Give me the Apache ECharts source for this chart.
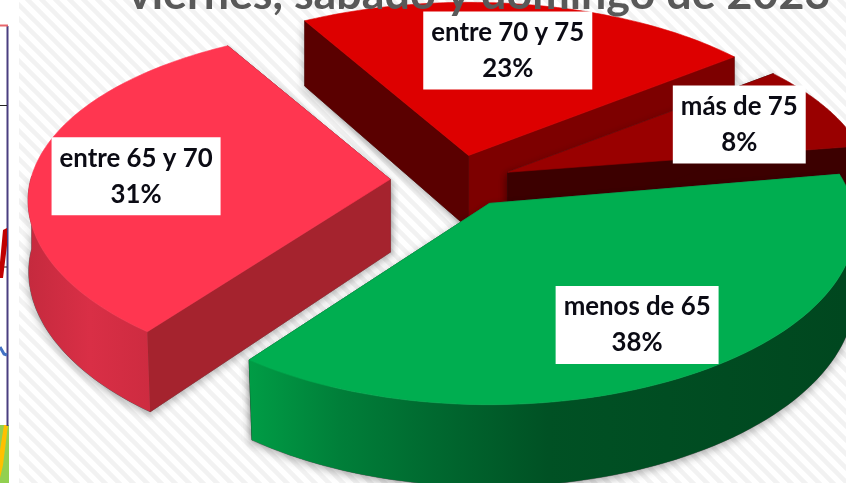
<!DOCTYPE html>
<html>
<head>
<meta charset="utf-8">
<style>html,body{margin:0;padding:0;background:#fff;overflow:hidden}#c{width:846px;height:483px}</style>
<script src="https://cdn.jsdelivr.net/npm/echarts@6/dist/echarts.min.js"></script>
</head>
<body>
<div id="c"></div>
<script>
// Data, in pie order (going round from the right-hand edge)
const categories = ['más de 75', 'entre 70 y 75', 'entre 65 y 70', 'menos de 65'];
const values = [8, 23, 31, 38];
const titleText = 'viernes, sábado y domingo de 2023';

// Styles of each slice
const topColors = ['#990000', '#dd0000', '#ff3650', '#00ae50'];
const edgeColors = ['#3c0000', '#7d0000', '#a5232e', '#00702f'];
const backEdgeColors = ['#3c0000', '#5a0000', '#a5232e', '#00702f'];
const drawRank = [1, 0, 2, 3];
const explodeScale = [0.85, 1, 1, 1];
const radiusScale = [1, 1, 0.99, 1];
const angleNudge = [0, 0, 0, -1];
const labelRadius = [0.72, 0.68, 0.7, 0.735];
const labelNudge = [[0, 0], [-4, 2], [-2, 5], [2, 0]];

// Pie projection
const pie = { cx: 456, cy: 181, rx: 363, ry: 175, px: 0.125, pyNear: 0.15, pyFar: 0.125, ex: 66, ey: 26, start: -8.8, depth: 73, depthP: 9 };
const rad = d => d * Math.PI / 180;
function project(center, deg, r) {
  const u = r * Math.cos(rad(deg)), v = r * Math.sin(rad(deg));
  const py = v > 0 ? pie.pyNear : pie.pyFar;
  return [center[0] + pie.rx * u * (1 + pie.px * v), center[1] + pie.ry * v * (1 + py * v), v];
}
function drop(center, p) {
  const d = pie.depth + pie.depthP * p[2];
  const taper = 1 - 0.015 * Math.max(p[2], 0);
  return [center[0] + (p[0] - center[0]) * taper, p[1] + d];
}
function arcGradient(i) {
  if (i === 3) return { type: 'linear', global: true, x: 250, y: 0, x2: 846, y2: 0, colorStops: [
    { offset: 0, color: '#009c45' }, { offset: 0.15, color: '#007f39' }, { offset: 0.3, color: '#006a30' },
    { offset: 0.5, color: '#005124' }, { offset: 1, color: '#00471f' }] };
  if (i === 2) return { type: 'linear', global: true, x: 28, y: 0, x2: 152, y2: 0, colorStops: [
    { offset: 0, color: '#c52a3e' }, { offset: 0.5, color: '#d92f46' }, { offset: 1, color: '#cd2b40' }] };
  return edgeColors[i];
}
const total = values.reduce((a, b) => a + b, 0);
const shadow = { shadowBlur: 9, shadowColor: 'rgba(0,0,0,0.3)', shadowOffsetY: 3 };

function renderSlice(params, api) {
  const i = params.dataIndex;
  let a0 = pie.start;
  for (let k = 0; k < i; k++) a0 -= values[k] / total * 360;
  const a1 = a0 - api.value(1) / total * 360;
  const mid = (a0 + a1) / 2;
  const k = explodeScale[i];
  const c = [pie.cx + pie.ex * k * Math.cos(rad(mid)), pie.cy + pie.ey * k * Math.sin(rad(mid))];
  const arc = [];
  const n = 80;
  for (let s = 0; s <= n; s++) arc.push(project(c, a0 + angleNudge[i] + (a1 - a0) * s / n, radiusScale[i]));
  const top = [c].concat(arc.map(p => [p[0], p[1]]));
  const cBottom = [c[0], c[1] + pie.depth];
  const arcBottom = arc.map(p => drop(c, p));
  // only the part of the outer wall that faces the viewer
  const front = arc.filter(p => p[2] >= -0.03);
  const wall = front.map(p => [p[0], p[1]]).concat(front.map(p => drop(c, p)).reverse());
  const first = arc[0], last = arc[n];
  const side0 = [c, [first[0], first[1]], arcBottom[0], cBottom];
  const side1 = [c, [last[0], last[1]], arcBottom[n], cBottom];
  const lp = project(c, mid, labelRadius[i]);
  const z = drawRank[i] * 10;
  const poly = (pts, fill, zz, extra) => ({ type: 'polygon', z2: z + zz, shape: { points: pts },
    style: Object.assign({ fill: fill, stroke: typeof fill === 'string' ? fill : 'none', lineWidth: 0.6 }, extra || {}) });
  const children = [
    poly(side0, '#555', 0, shadow), poly(side1, '#555', 0, shadow),
    poly(side0, edgeColors[i], 1),
    poly(side1, backEdgeColors[i], 1),
    poly(top, topColors[i], 3),
    { type: 'text', z2: 100, style: {
      x: lp[0] + labelNudge[i][0], y: lp[1] + labelNudge[i][1], align: 'center', verticalAlign: 'middle',
      text: categories[i] + '\n' + api.value(1) + '%',
      font: 'bold 25.8px Lato, "Noto Sans", sans-serif', lineHeight: 36, fill: '#0b0b14',
      backgroundColor: '#fff', padding: [3, 8, 3, 8] } }
  ];
  if (front.length > 1) {
    children.push(poly(wall, '#555', 0, shadow));
    children.push(poly(wall, arcGradient(i), 2));
  }
  return { type: 'group', children: children };
}

// Diagonal hatch of the slide background
const tile = document.createElement('canvas');
tile.width = tile.height = 14;
const g = tile.getContext('2d');
g.fillStyle = '#fff'; g.fillRect(0, 0, 14, 14);
g.strokeStyle = '#f2f2f2'; g.lineWidth = 4.5;
g.beginPath();
g.moveTo(-7, 7); g.lineTo(7, 21);
g.moveTo(0, 0); g.lineTo(14, 14);
g.moveTo(7, -7); g.lineTo(21, 7);
g.stroke();

const chart = echarts.init(document.getElementById('c'), null, { renderer: 'canvas' });
chart.setOption({
  animation: false,
  backgroundColor: '#fff',
  graphic: [
    { type: 'rect', z: -10, shape: { x: 19, y: 0, width: 827, height: 483 }, style: { fill: { image: tile, repeat: 'repeat' } }, silent: true },
    { type: 'rect', z: -9, shape: { x: 0, y: 425, width: 9, height: 58 }, style: { fill: '#92d050' } },
    { type: 'polygon', z: -9, shape: { points: [[4, 425], [8, 425], [3, 465], [0, 478], [0, 450]] }, style: { fill: '#ffc000' } },
    { type: 'line', z: -9, shape: { x1: 7.5, y1: 26, x2: 7.5, y2: 426 }, style: { stroke: '#4a3f80', lineWidth: 2 } },
    { type: 'line', z: -9, shape: { x1: 0, y1: 25.5, x2: 8, y2: 25.5 }, style: { stroke: '#e8666c', lineWidth: 2 } },
    { type: 'line', z: -9, shape: { x1: 0, y1: 105.5, x2: 7, y2: 105.5 }, style: { stroke: '#222', lineWidth: 1 } },
    { type: 'line', z: -9, shape: { x1: 3, y1: 267, x2: 7, y2: 267 }, style: { stroke: '#222', lineWidth: 1 } },
    { type: 'polygon', z: -9, shape: { points: [[3, 230], [7, 228], [7, 245], [3, 278], [0, 278], [0, 262]] }, style: { fill: '#c00000' } },
    { type: 'polyline', z: -9, shape: { points: [[0, 347], [4, 354], [7, 355]] }, style: { stroke: '#4472c4', lineWidth: 3, fill: 'none' } },
    { type: 'text', z: 15, style: { x: 128, y: 17, text: titleText, font: 'bold 44.8px Lato, "Noto Sans", sans-serif', fill: '#595959', verticalAlign: 'bottom' } }
  ],
  series: [{
    type: 'custom',
    coordinateSystem: 'none',
    clip: false,
    z: 10,
    data: values.map((v, i) => [i, v]),
    renderItem: renderSlice
  }]
});
</script>
</body>
</html>
